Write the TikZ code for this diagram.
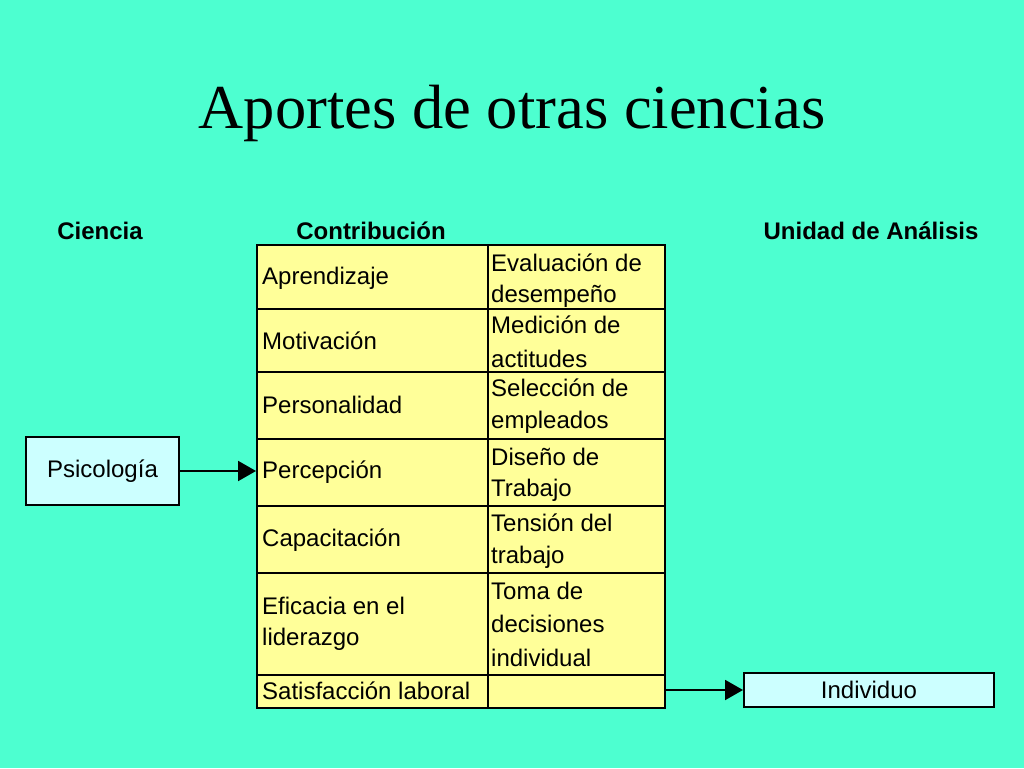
\documentclass[tikz,border=0pt]{standalone}
\usepackage{fontspec}
\setmainfont{Liberation Serif}
\newfontfamily\sansf{Liberation Sans}
\usetikzlibrary{arrows.meta}
\definecolor{bgc}{RGB}{77,255,208}
\definecolor{cellc}{RGB}{255,255,153}
\definecolor{boxc}{RGB}{204,255,255}
\tikzset{
  cell/.style={draw=black, line width=2pt, fill=cellc, inner sep=0pt, anchor=north west},
  sbox/.style={draw=black, line width=2pt, fill=boxc, inner sep=0pt, font=\sansf\fontsize{24}{28}\selectfont},
  txt/.style={anchor=west, inner sep=0pt, font=\sansf\fontsize{24}{28}\selectfont},
  head/.style={inner sep=0pt, font=\sansf\bfseries\fontsize{24}{28}\selectfont},
  conn/.style={line width=2pt, -{Triangle[length=18pt,width=20pt]}}
}
\begin{document}
\begin{tikzpicture}[x=1pt,y=-1pt]
\fill[bgc] (0,0) rectangle (1024,768);
\useasboundingbox (0,0) rectangle (1024,768);
\node[inner sep=0pt, font=\fontsize{62.5}{66}\selectfont] (title) at (512,113) {Aportes de otras ciencias};
\node[head] (h1) at (100,231) {Ciencia};
\node[head] (h2) at (371,231) {Contribución};
\node[head] (h3) at (871,231) {Unidad de Análisis};
% table cells
\node[cell, minimum width=231pt, minimum height=64pt] (l1) at (256,244) {};
\node[cell, minimum width=177pt, minimum height=64pt] (r1) at (487,244) {};
\node[cell, minimum width=231pt, minimum height=63pt] (l2) at (256,308) {};
\node[cell, minimum width=177pt, minimum height=63pt] (r2) at (487,308) {};
\node[cell, minimum width=231pt, minimum height=67pt] (l3) at (256,371) {};
\node[cell, minimum width=177pt, minimum height=67pt] (r3) at (487,371) {};
\node[cell, minimum width=231pt, minimum height=67pt] (l4) at (256,438) {};
\node[cell, minimum width=177pt, minimum height=67pt] (r4) at (487,438) {};
\node[cell, minimum width=231pt, minimum height=67pt] (l5) at (256,505) {};
\node[cell, minimum width=177pt, minimum height=67pt] (r5) at (487,505) {};
\node[cell, minimum width=231pt, minimum height=102pt] (l6) at (256,572) {};
\node[cell, minimum width=177pt, minimum height=102pt] (r6) at (487,572) {};
\node[cell, minimum width=231pt, minimum height=33pt] (l7) at (256,674) {};
\node[cell, minimum width=177pt, minimum height=33pt] (r7) at (487,674) {};
% texts
\node[txt] (t1) at (262,278) {Aprendizaje};
\node[txt] (t2) at (262,341) {Motivación};
\node[txt] (t3) at (262,405) {Personalidad};
\node[txt] (t4) at (262,472) {Percepción};
\node[txt] (t5) at (262,540) {Capacitación};
\node[txt] (t6a) at (262,606) {Eficacia en el};
\node[txt] (t6b) at (262,639) {liderazgo};
\node[txt] (t7) at (262,691) {Satisfacción laboral};
\node[txt] (u1a) at (491,263) {Evaluación de};
\node[txt] (u1b) at (491,296) {desempeño};
\node[txt] (u2a) at (491,325) {Medición de};
\node[txt] (u2b) at (491,359) {actitudes};
\node[txt] (u3a) at (491,388) {Selección de};
\node[txt] (u3b) at (491,422) {empleados};
\node[txt] (u4a) at (491,457) {Diseño de};
\node[txt] (u4b) at (491,490) {Trabajo};
\node[txt] (u5a) at (491,523) {Tensión del};
\node[txt] (u5b) at (491,557) {trabajo};
\node[txt] (u6a) at (491,591) {Toma de};
\node[txt] (u6b) at (491,624) {decisiones};
\node[txt] (u6c) at (491,658) {individual};
% side boxes
\node[sbox, minimum width=153pt, minimum height=68pt] (psi) at (102.5,471) {Psicología};
\node[sbox, minimum width=250pt, minimum height=34pt] (ind) at (869,690) {Individuo};
\draw[conn] (psi.east) -- (l4.west |- psi.east);
\draw[conn] (r7.east |- ind.west) -- (ind.west);
\end{tikzpicture}
\end{document}
